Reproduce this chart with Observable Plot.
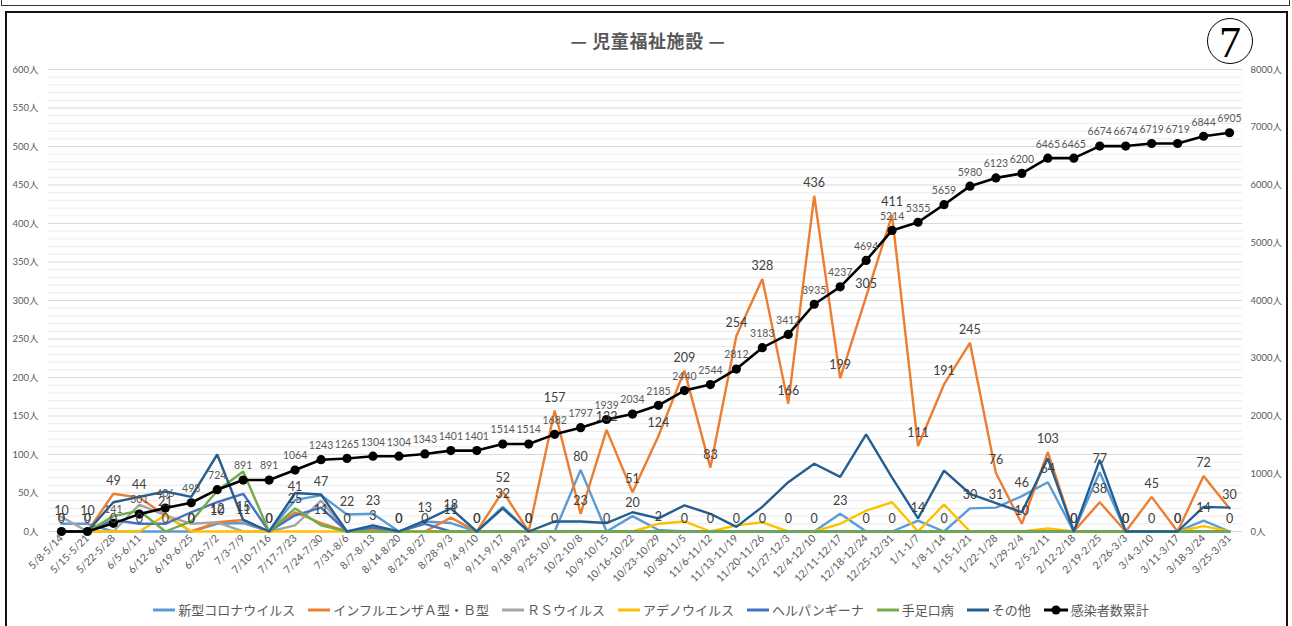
<!DOCTYPE html>
<html>
<head>
<meta charset="utf-8">
<script src="https://cdn.jsdelivr.net/npm/d3@7"></script>
<script src="https://cdn.jsdelivr.net/npm/@observablehq/plot@0.6"></script>
<style>
  body { margin:0; width:1292px; height:626px; overflow:hidden; background:#fff; position:relative; font-family:"Noto Sans CJK JP", sans-serif; }
  #topbox { position:absolute; left:1px; top:-10px; width:1287px; height:14px; border:1px solid #333; }
  #frame { position:absolute; left:5px; top:11px; width:1279px; height:640px; border:2px solid #111; }
  #chart { position:absolute; left:0; top:0; }
  #title { position:absolute; top:27px; left:0; width:1296px; text-align:center; font-size:18px; font-weight:bold; color:#595959; letter-spacing:0.6px; }
  #num { position:absolute; left:1207px; top:18px; width:44px; height:44px; border:1.5px solid #000; border-radius:50%; font-family:"Liberation Serif", serif; font-size:44px; line-height:47px; text-align:center; color:#000; }
  #legend { position:absolute; top:600px; left:0; width:1302px; display:flex; justify-content:center; align-items:center; font-size:13px; color:#595959; }
  #legend .item { display:flex; align-items:center; margin:0 6.5px; }
  #legend svg { margin-right:3px; }
</style>
</head>
<body>
<div id="topbox"></div>
<div id="frame"></div>
<div id="chart"></div>
<div id="title">— 児童福祉施設 —</div>
<div id="num">7</div>
<div id="legend"></div>
<script>
const weeks = ["5/8-5/14","5/15-5/21","5/22-5/28","6/5-6/11","6/12-6/18","6/19-6/25","6/26-7/2","7/3-7/9","7/10-7/16","7/17-7/23","7/24-7/30","7/31-8/6","8/7-8/13","8/14-8/20","8/21-8/27","8/28-9/3","9/4-9/10","9/11-9/17","9/18-9/24","9/25-10/1","10/2-10/8","10/9-10/15","10/16-10/22","10/23-10/29","10/30-11/5","11/6-11/12","11/13-11/19","11/20-11/26","11/27-12/3","12/4-12/10","12/11-12/17","12/18-12/24","12/25-12/31","1/1-1/7","1/8-1/14","1/15-1/21","1/22-1/28","1/29-2/4","2/5-2/11","2/12-2/18","2/19-2/25","2/26-3/3","3/4-3/10","3/11-3/17","3/18-3/24","3/25-3/31"];

const corona     = [10,10,0,0,0,0,10,11,0,41,47,22,23,0,13,11,0,32,0,0,80,0,20,2,0,0,0,0,0,0,23,0,0,14,0,30,31,46,64,0,77,0,0,0,14,0];
const influenza  = [0,0,49,44,21,0,12,15,0,25,11,0,3,0,0,18,0,52,0,157,23,132,51,124,209,83,254,328,166,436,199,305,411,111,191,245,76,10,103,0,38,0,45,0,72,30];
const rsv        = [19,0,0,35,21,10,12,0,0,8,40,0,0,0,0,0,0,0,0,0,0,0,0,0,0,0,0,0,0,0,0,0,0,0,0,0,0,0,0,0,0,0,0,0,0,0];
const adeno      = [0,0,0,0,21,0,0,0,0,0,0,0,0,0,0,0,0,0,0,0,0,0,0,10,13,0,8,12,0,0,10,27,38,0,35,0,0,0,4,0,0,0,0,0,7,0];
const herpangina = [0,0,15,10,10,25,38,49,0,21,31,0,5,0,10,0,0,0,0,0,0,0,0,0,0,0,0,0,0,0,0,0,0,0,0,0,0,0,0,0,0,0,0,0,0,0];
const hfmd       = [0,0,20,27,0,13,53,78,0,30,8,0,0,0,0,0,0,0,0,0,0,0,0,0,0,0,0,0,0,0,0,0,0,0,0,0,0,0,0,0,0,0,0,0,0,0];
const other      = [0,0,38,45,52,45,100,15,0,50,48,0,8,0,14,30,0,30,0,13,13,11,25,17,34,23,6,32,64,88,71,126,70,17,79,49,37,25,95,0,93,0,0,0,32,31];
const cumulative = [0,0,141,301,406,498,724,891,891,1064,1243,1265,1304,1304,1343,1401,1401,1514,1514,1682,1797,1939,2034,2185,2440,2544,2812,3183,3412,3935,4237,4694,5214,5355,5659,5980,6123,6200,6465,6465,6674,6674,6719,6719,6844,6905];

const seriesNames  = ["新型コロナウイルス","インフルエンザＡ型・Ｂ型","ＲＳウイルス","アデノウイルス","ヘルパンギーナ","手足口病","その他"];
const seriesColors = ["#5B9BD5","#ED7D31","#A5A5A5","#FFC000","#4472C4","#70AD47","#255E91"];
const seriesValues = [corona, influenza, rsv, adeno, herpangina, hfmd, other];
const cumulativeName = "感染者数累計";

const leftTicks  = [0,50,100,150,200,250,300,350,400,450,500,550,600];
const rightTicks = [0,1000,2000,3000,4000,5000,6000,7000,8000];
const leftMax = 600, rightMax = 8000;
const ratio = leftMax / rightMax;

const rowsOf = (vals) => weeks.map((w, i) => ({week: w, value: vals[i]}));
const cumRows = weeks.map((w, i) => ({week: w, value: cumulative[i], y: cumulative[i] * ratio}));
const minorTicks = d3.range(0, leftMax + 1, 10).filter(v => v % 50 !== 0);

const font = "Lato, 'Noto Sans CJK JP', sans-serif";

const marks = [
  Plot.ruleY(minorTicks, {stroke: "#ececec", strokeWidth: 1}),
  Plot.ruleY(leftTicks, {stroke: "#d9d9d9", strokeWidth: 1}),
  Plot.axisY(leftTicks, {anchor: "left", tickSize: 0, tickPadding: 10, tickFormat: d => d + "人", fontSize: 9.5, fill: "#595959", label: null}),
  Plot.axisY(rightTicks.map(v => v * ratio), {anchor: "right", tickSize: 0, tickPadding: 8, tickFormat: d => Math.round(d / ratio) + "人", fontSize: 9.5, fill: "#595959", label: null}),
  Plot.axisX({tickRotate: -45, tickSize: 0, tickPadding: 5, fontSize: 10.5, fill: "#595959", label: null})
];
seriesValues.forEach((vals, k) => {
  marks.push(Plot.line(rowsOf(vals), {x: "week", y: "value", stroke: seriesColors[k], strokeWidth: 2.4, strokeLinejoin: "miter"}));
});
marks.push(Plot.line(cumRows, {x: "week", y: "y", stroke: "#000", strokeWidth: 2.6}));
marks.push(Plot.dot(cumRows, {x: "week", y: "y", r: 4.6, fill: "#000"}));
marks.push(Plot.text(cumRows, {x: "week", y: "y", text: d => String(d.value), dy: -14, fontSize: 10.5, fill: "#595959"}));
marks.push(Plot.text(rowsOf(influenza), {x: "week", y: "value", text: d => String(d.value), dy: -13, fontSize: 12.5, fill: "#404040"}));
marks.push(Plot.text(rowsOf(corona), {x: "week", y: "value", text: d => String(d.value), dy: -13, fontSize: 12.5, fill: "#404040"}));

const chart = Plot.plot({
  width: 1292,
  height: 590,
  marginTop: 69,
  marginBottom: 59,
  marginLeft: 48,
  marginRight: 50,
  style: {fontFamily: font, background: "transparent", overflow: "visible"},
  x: {type: "point", domain: weeks, padding: 0.5},
  y: {domain: [0, leftMax], range: [531, 69]},
  marks
});
document.getElementById("chart").appendChild(chart);

const legend = document.getElementById("legend");
seriesNames.forEach((name, k) => {
  const it = document.createElement("div");
  it.className = "item";
  it.innerHTML = `<svg width="22" height="10"><line x1="0" y1="5" x2="22" y2="5" stroke="${seriesColors[k]}" stroke-width="3"/></svg><span>${name}</span>`;
  legend.appendChild(it);
});
const itc = document.createElement("div");
itc.className = "item";
itc.innerHTML = `<svg width="24" height="12"><line x1="0" y1="6" x2="24" y2="6" stroke="#000" stroke-width="3"/><circle cx="12" cy="6" r="4.5" fill="#000"/></svg><span>${cumulativeName}</span>`;
legend.appendChild(itc);
</script>
</body>
</html>
